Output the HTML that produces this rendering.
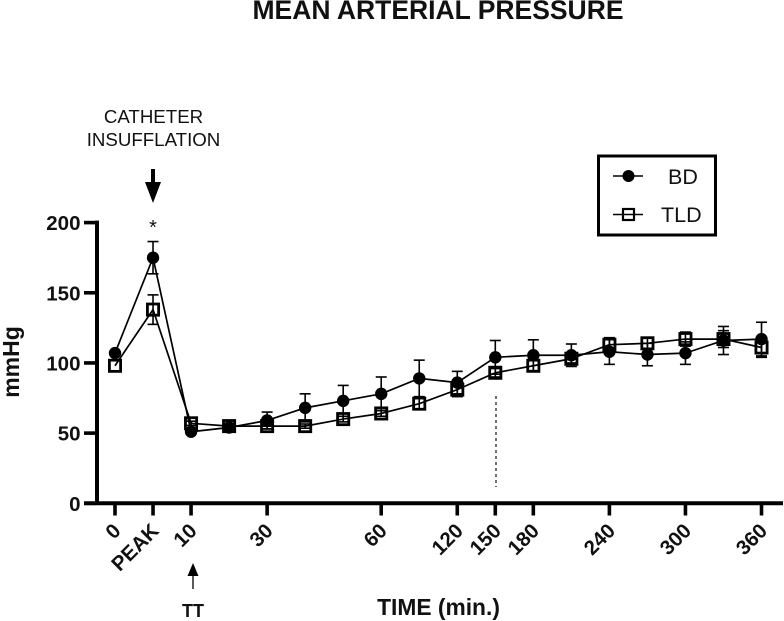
<!DOCTYPE html>
<html>
<head>
<meta charset="utf-8">
<title>Mean Arterial Pressure</title>
<style>
html,body{margin:0;padding:0;background:#fff;}
svg{display:block;}
text{font-family:"Liberation Sans",sans-serif;fill:#111;}
</style>
</head>
<body>
<svg id="chart" width="784" height="621" viewBox="0 0 784 621" xmlns="http://www.w3.org/2000/svg">
  <rect x="0" y="0" width="784" height="621" fill="#fff"/>
  <text x="438" y="19" text-anchor="middle" font-size="26.5" font-weight="700">MEAN ARTERIAL PRESSURE</text>
  <text x="153.5" y="123" text-anchor="middle" font-size="18.7">CATHETER</text>
  <text x="153.5" y="146" text-anchor="middle" font-size="18.7">INSUFFLATION</text>
  <g>
    <line x1="153" y1="169" x2="153" y2="185" stroke="#000" stroke-width="4"/>
    <polygon points="145,182 161,182 153,203" fill="#000"/>
  </g>
  <text x="153" y="234" text-anchor="middle" font-size="20">*</text>
  <text transform="translate(19,362) rotate(-90)" text-anchor="middle" font-size="23" font-weight="700">mmHg</text>
  <text x="438.5" y="615" text-anchor="middle" font-size="22.8" font-weight="700">TIME (min.)</text>
  <g>
    <line x1="193" y1="589" x2="193" y2="572" stroke="#000" stroke-width="1.3"/>
    <polygon points="187.5,576 198.5,576 193,563" fill="#000"/>
  </g>
  <text x="193" y="617" text-anchor="middle" font-size="18" font-weight="700">TT</text>
  <line x1="496" y1="396" x2="496" y2="487" stroke="#333" stroke-width="1.4" stroke-dasharray="3 3"/>
  <g id="plot"></g>
  <g>
    <rect x="598.5" y="156" width="117" height="79" fill="none" stroke="#000" stroke-width="3"/>
    <g>
      <line x1="613" y1="176" x2="643" y2="176" stroke="#000" stroke-width="1.5"/>
      <circle cx="628.5" cy="176" r="6" fill="#000"/>
      <text x="668" y="184" font-size="21.5">BD</text>
    </g>
    <g>
      <line x1="613" y1="214.5" x2="643" y2="214.5" stroke="#000" stroke-width="1.5"/>
      <rect x="623" y="209" width="11" height="11" fill="none" stroke="#000" stroke-width="2.2"/>
      <text x="661" y="222" font-size="21.5">TLD</text>
    </g>
  </g>
</svg>
<script>
const categories = ['0','PEAK','10','','30','','','60','','120','150','180','','240','','300','','360'];
const bdValues  = [107,175,51,54,59,68,73,78,89,86,104,105.5,105.5,108,106,107,116,117];
const bdErrors  = [0,11.5,1.5,2.5,6,10,11,12,13,8,12,11,8,9,8,8,10,12];
const tldValues = [98,138,57,55,55,55,60,64,71,81,93,98,103,113,114,117,117,111];
const tldErrors = [0,10.5,1.5,2,2,1.5,2,2,4,5,3,4,3,5,4,5,6,7];
const yTicks = [0,50,100,150,200];

const svgNS = 'http://www.w3.org/2000/svg';
const plot = document.getElementById('plot');
const xScale = i => 115 + i * 38.03;
const yScale = v => 503.3 - v * 1.4035;

function make(tag, attrs, parent) {
  const el = document.createElementNS(svgNS, tag);
  for (const k in attrs) el.setAttribute(k, attrs[k]);
  (parent || plot).appendChild(el);
  return el;
}

// axes
const yAxis = make('line', {x1: 97, y1: yScale(200) - 2, x2: 97, y2: 505, stroke: '#000', 'stroke-width': 4});


const xAxis = make('line', {x1: 84, y1: 503.3, x2: 783, y2: 503.3, stroke: '#000', 'stroke-width': 4});



yTicks.forEach(v => {
  const tick = make('line', {x1: 84, y1: yScale(v), x2: 97, y2: yScale(v), stroke: '#000', 'stroke-width': 3.6});
  
  
  const label = make('text', {x: 80.5, y: yScale(v) + 7.5, 'text-anchor': 'end', 'font-size': 20.5, 'font-weight': 700});
  
  
  label.textContent = v;
});

categories.forEach((c, i) => {
  if (!c) return;
  const x = xScale(i);
  const tick = make('line', {x1: x, y1: 503, x2: x, y2: 515.5, stroke: '#000', 'stroke-width': 3.6});
  
  
  const label = make('text', {transform: 'translate(' + (x + 7) + ',532) rotate(-45)', 'text-anchor': 'end', 'font-size': 20.5, 'font-weight': 700});
  
  
  label.textContent = c;
});

function errorBars(values, errors, name) {
  values.forEach((v, i) => {
    if (!errors[i]) return;
    const x = xScale(i);
    const top = yScale(v + errors[i]);
    const bot = yScale(v - errors[i]);
    const g = make('g', {stroke: '#000', 'stroke-width': 1.6, fill: 'none'});
    
    
    make('line', {x1: x, y1: top, x2: x, y2: bot}, g);
    make('line', {x1: x - 5.5, y1: top, x2: x + 5.5, y2: top}, g);
    make('line', {x1: x - 5.5, y1: bot, x2: x + 5.5, y2: bot}, g);
  });
}

function seriesLine(values, name) {
  const line = make('polyline', {
    points: values.map((v, i) => xScale(i) + ',' + yScale(v)).join(' '),
    fill: 'none', stroke: '#000', 'stroke-width': 1.7, 'stroke-linejoin': 'round'
  });
  
  
}

errorBars(bdValues, bdErrors, 'bd-error-bar');
seriesLine(bdValues, 'bd-line');
bdValues.forEach((v, i) => {
  const p = make('circle', {cx: xScale(i), cy: yScale(v), r: 6.2, fill: '#000'});
  
  
});

errorBars(tldValues, tldErrors, 'tld-error-bar');
seriesLine(tldValues, 'tld-line');
tldValues.forEach((v, i) => {
  const p = make('rect', {x: xScale(i) - 5.6, y: yScale(v) - 5.6, width: 11.2, height: 11.2, fill: 'none', stroke: '#000', 'stroke-width': 2.8});
  
  
});
</script>
</body>
</html>
